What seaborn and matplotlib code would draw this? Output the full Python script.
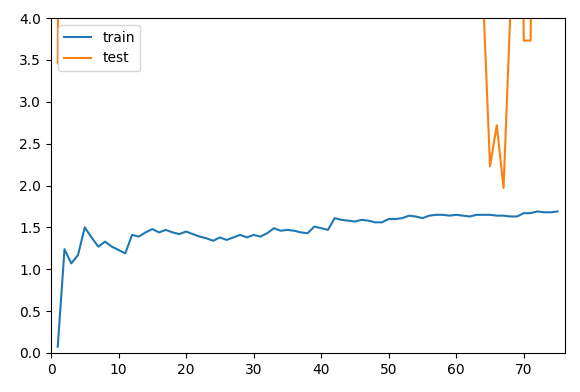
import matplotlib
matplotlib.use("Agg")
import matplotlib.pyplot as plt
import seaborn as sns
import pandas as pd

epochs = list(range(1, 76))

train_loss = [0.075, 1.24, 1.07, 1.17, 1.50, 1.38, 1.27, 1.33, 1.27, 1.23,
              1.19, 1.41, 1.39, 1.44, 1.48, 1.44, 1.47, 1.44, 1.42, 1.45,
              1.42, 1.39, 1.37, 1.34, 1.38, 1.35, 1.38, 1.41, 1.38, 1.41,
              1.39, 1.43, 1.49, 1.46, 1.47, 1.46, 1.44, 1.43, 1.51, 1.49,
              1.47, 1.61, 1.59, 1.58, 1.57, 1.59, 1.58, 1.56, 1.56, 1.60,
              1.60, 1.61, 1.64, 1.63, 1.61, 1.64, 1.65, 1.65, 1.64, 1.65,
              1.64, 1.63, 1.65, 1.65, 1.65, 1.64, 1.64, 1.63, 1.63, 1.67,
              1.67, 1.69, 1.68, 1.68, 1.69]

test_loss = [3.46, 20.0, 15.0, 12.0, 10.0, 9.0, 8.5, 8.0, 7.5, 7.2,
             7.0, 6.8, 6.6, 6.5, 6.4, 6.3, 6.2, 6.1, 6.0, 6.0,
             5.9, 5.8, 5.8, 5.7, 5.7, 5.6, 5.6, 5.5, 5.5, 5.5,
             5.4, 5.4, 5.4, 5.3, 5.3, 5.3, 5.2, 5.2, 5.2, 5.1,
             5.1, 5.1, 5.0, 5.0, 5.0, 5.0, 4.9, 4.9, 4.9, 4.9,
             4.8, 4.8, 4.8, 4.8, 4.7, 4.7, 4.7, 4.7, 4.6, 4.6,
             4.6, 4.6, 5.5, 4.2, 2.23, 2.72, 1.97, 4.05, 10.0, 3.73,
             3.73, 10.0, 9.0, 8.0, 8.0]

df = pd.DataFrame({"epoch": epochs, "train": train_loss, "test": test_loss})

fig = plt.figure(figsize=(5.8, 3.92), dpi=100)
ax = fig.add_axes([51 / 580, 1 - 353 / 392, (565 - 51) / 580, (353 - 18) / 392])

sns.lineplot(data=df, x="epoch", y="train", ax=ax, color="#1f77b4", label="train", linewidth=1.5)
sns.lineplot(data=df, x="epoch", y="test", ax=ax, color="#ff7f0e", label="test", linewidth=1.5)

ax.set_xlim(0, 76.1)
ax.set_ylim(0, 4)
ax.set_yticks([0.0, 0.5, 1.0, 1.5, 2.0, 2.5, 3.0, 3.5, 4.0])
ax.set_xticks([0, 10, 20, 30, 40, 50, 60, 70])
ax.set_xlabel("")
ax.set_ylabel("")
ax.legend(loc="upper left")

fig.savefig("out.png", dpi=100)
